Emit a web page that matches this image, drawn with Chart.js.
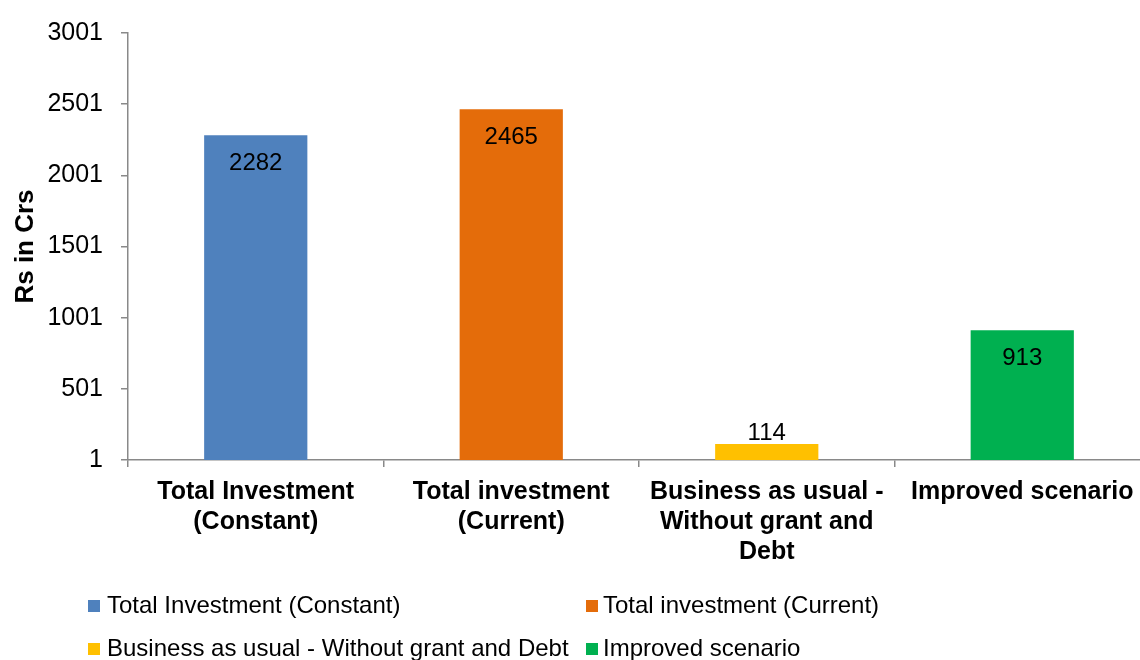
<!DOCTYPE html>
<html>
<head>
<meta charset="utf-8">
<script src="https://cdn.jsdelivr.net/npm/chart.js@4.4.1/dist/chart.umd.min.js"></script>
<style>
  html, body { margin: 0; padding: 0; background: #fff; overflow: hidden; }
  #wrap { position: relative; width: 1150px; height: 660px; }
</style>
</head>
<body>
<div id="wrap"><canvas id="chart"></canvas></div>
<script>
// Investment scenarios (Rs in Crs)
const categories = [
  ['Total Investment', '(Constant)'],
  ['Total investment', '(Current)'],
  ['Business as usual -', 'Without grant and', 'Debt'],
  ['Improved scenario']
];
const legendNames = [
  'Total Investment (Constant)',
  'Total investment (Current)',
  'Business as usual - Without grant and Debt',
  'Improved scenario'
];
const values = [2282, 2465, 114, 913];
const barColors = ['#4F81BD', '#E46C0A', '#FFC000', '#00B050'];
const yTicks = [1, 501, 1001, 1501, 2001, 2501, 3001];

const FONT = '"Liberation Sans", Arial, sans-serif';
const AXIS_COLOR = '#898989';

// Value labels: inside the top of tall bars, above short ones
const valueLabels = {
  id: 'valueLabels',
  afterDatasetsDraw(chart) {
    const ctx = chart.ctx;
    const meta = chart.getDatasetMeta(0);
    ctx.save();
    ctx.font = '24px ' + FONT;
    ctx.fillStyle = '#000';
    ctx.textAlign = 'center';
    ctx.textBaseline = 'middle';
    meta.data.forEach((bar, i) => {
      const h = bar.base - bar.y;
      const y = h > 45 ? bar.y + 28 : bar.y - 11;
      ctx.fillText(String(values[i]), bar.x, y);
    });
    ctx.restore();
  }
};

// Two-column legend under the axis labels
const bottomLegend = {
  id: 'bottomLegend',
  afterDraw(chart) {
    const ctx = chart.ctx;
    const cols = [{ box: 88, text: 107 }, { box: 586, text: 603 }];
    const rows = [606, 649];
    ctx.save();
    ctx.font = '24px ' + FONT;
    ctx.textAlign = 'left';
    ctx.textBaseline = 'middle';
    legendNames.forEach((name, i) => {
      const c = cols[i % 2];
      const r = rows[Math.floor(i / 2)];
      ctx.fillStyle = barColors[i];
      ctx.fillRect(c.box, r - 6, 12, 12);
      ctx.fillStyle = '#000';
      ctx.fillText(name, c.text, r);
    });
    ctx.restore();
  }
};

new Chart(document.getElementById('chart'), {
  type: 'bar',
  data: {
    labels: categories,
    datasets: [{
      data: values,
      backgroundColor: barColors,
      borderWidth: 0,
      barPercentage: 0.404,
      categoryPercentage: 1.0
    }]
  },
  options: {
    responsive: true,
    maintainAspectRatio: false,
    animation: false,
    layout: { padding: { top: 31, right: 0, bottom: 0, left: 0 } },
    plugins: {
      legend: { display: false },
      tooltip: { enabled: false }
    },
    scales: {
      x: {
        grid: {
          offset: true,
          drawOnChartArea: false,
          drawTicks: true,
          tickLength: 7,
          color: AXIS_COLOR,
          lineWidth: 1.5
        },
        border: { color: AXIS_COLOR, width: 1.5 },
        ticks: {
          color: '#000',
          padding: 10,
          maxRotation: 0,
          autoSkip: false,
          font: { family: FONT, size: 25, weight: 'bold', lineHeight: '30px' }
        },
        afterFit(scale) { scale.height = 200; }
      },
      y: {
        min: 1,
        max: 3001,
        afterBuildTicks(scale) { scale.ticks = yTicks.map(v => ({ value: v })); },
        grid: {
          drawOnChartArea: false,
          drawTicks: true,
          tickLength: 7,
          color: AXIS_COLOR,
          lineWidth: 1.5
        },
        border: { color: AXIS_COLOR, width: 1.5 },
        ticks: {
          color: '#000',
          padding: 18,
          font: { family: FONT, size: 25 },
          callback: (v) => String(v)
        },
        title: {
          display: true,
          text: 'Rs in Crs',
          color: '#000',
          padding: { top: 10, bottom: 0 },
          font: { family: FONT, size: 26, weight: 'bold' }
        },
        afterFit(scale) { scale.width = 128; }
      }
    }
  },
  plugins: [valueLabels, bottomLegend]
});
</script>
</body>
</html>
